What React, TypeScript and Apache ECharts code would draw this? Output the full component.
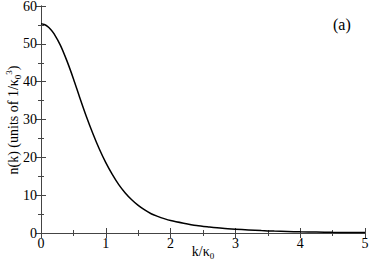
import React, { useEffect, useRef } from "react";
import * as echarts from "echarts";

const kValues = [0, 0.05, 0.1, 0.15, 0.2, 0.3, 0.4, 0.5, 0.6, 0.7, 0.8, 0.9, 1.0, 1.1, 1.2, 1.3, 1.4, 1.5, 1.6, 1.7, 1.8, 1.9, 2.0, 2.2, 2.4, 2.6, 2.8, 3.0, 3.2, 3.4, 3.6, 3.8, 4.0, 4.25, 4.5, 4.75, 5.0];
const nValues = [55.3, 55.1, 54.6, 53.8, 52.7, 49.6, 45.5, 40.8, 35.7, 30.8, 26.3, 22.2, 18.6, 15.5, 12.8, 10.6, 8.8, 7.3, 6.1, 5.1, 4.4, 3.8, 3.3, 2.6, 2.0, 1.6, 1.25, 1.0, 0.8, 0.63, 0.5, 0.4, 0.32, 0.24, 0.18, 0.13, 0.1];

const FONT = "'Liberation Serif', 'Times New Roman', serif";
const FRAME = "#444";

export default function App() {
  const ref = useRef<HTMLDivElement>(null);
  useEffect(() => {
    const chart = echarts.init(ref.current!, null, { renderer: "svg" });
    const data = kValues.map((k, i) => [k, nValues[i]]);
    const baseAxis = {
      axisLine: { show: true, lineStyle: { color: FRAME, width: 1 } },
      axisTick: { show: true, inside: true, length: 5, lineStyle: { color: FRAME } },
      minorTick: { show: true, splitNumber: 2, length: 3, lineStyle: { color: FRAME } },
      splitLine: { show: false },
      minorSplitLine: { show: false },
    };
    const rich = {
      a: { fontFamily: FONT, fontSize: 14, fill: "#000", verticalAlign: "middle", lineHeight: 18 },
      s: { fontFamily: FONT, fontSize: 9, fill: "#000", verticalAlign: "bottom", lineHeight: 18 },
      p: { fontFamily: FONT, fontSize: 9, fill: "#000", verticalAlign: "top", lineHeight: 18 },
    };
    chart.setOption({
      animation: false,
      backgroundColor: "#fff",
      textStyle: { fontFamily: FONT },
      grid: { left: 41, right: 5, top: 6, bottom: 32, containLabel: false, outerBoundsMode: "none" },
      xAxis: [
        {
          ...baseAxis,
          type: "value",
          min: 0,
          max: 5,
          interval: 1,
          position: "bottom",
          axisLabel: { color: "#000", fontFamily: FONT, fontSize: 14, margin: 3 },
        },
        {
          ...baseAxis,
          type: "value",
          min: 0,
          max: 5,
          interval: 1,
          position: "top",
          axisLabel: { show: false },
        },
      ],
      yAxis: [
        {
          ...baseAxis,
          type: "value",
          min: 0,
          max: 60,
          interval: 10,
          position: "left",
          axisLabel: { color: "#000", fontFamily: FONT, fontSize: 14, margin: 4 },
        },
        {
          ...baseAxis,
          type: "value",
          min: 0,
          max: 60,
          interval: 10,
          position: "right",
          axisLabel: { show: false },
        },
      ],
      series: [
        {
          type: "line",
          data,
          xAxisIndex: 0,
          yAxisIndex: 0,
          showSymbol: false,
          smooth: 0.3,
          lineStyle: { color: "#000", width: 1.5 },
        },
      ],
      graphic: [
        {
          type: "text",
          x: 203,
          y: 251,
          style: {
            text: "{a|k/κ}{s|0}",
            rich,
            align: "center",
            verticalAlign: "middle",
          },
        },
        {
          type: "text",
          x: 13,
          y: 120,
          rotation: Math.PI / 2,
          style: {
            text: "{a|n(k) (units of 1/κ}{s|0}{p|3}{a|)}",
            rich,
            align: "center",
            verticalAlign: "middle",
          },
        },
        {
          type: "text",
          left: 333,
          top: 16,
          style: { text: "(a)", fontFamily: FONT, fontSize: 16, fill: "#000" },
        },
      ],
    });
    return () => chart.dispose();
  }, []);
  return <div ref={ref} style={{ width: 370, height: 265, position: "absolute", left: 0, top: 0 }} />;
}
